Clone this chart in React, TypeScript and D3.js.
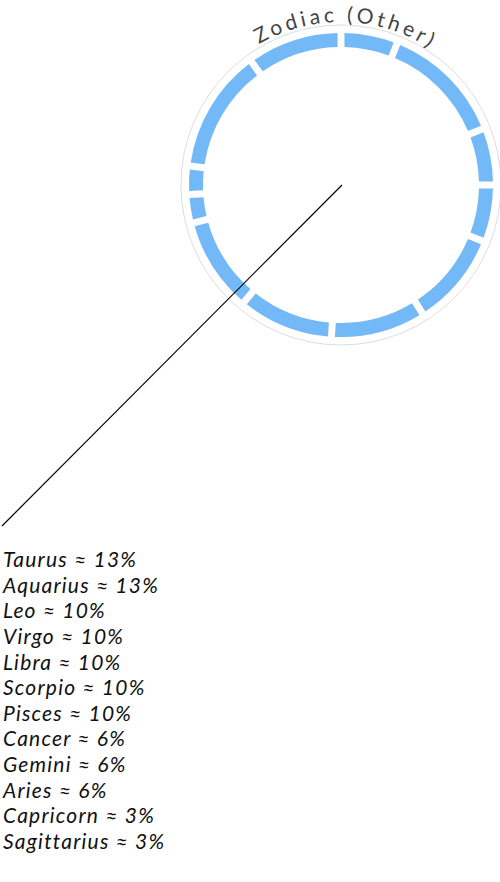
import React from "react";
import * as d3 from "d3";

const signs = ["Aries", "Taurus", "Gemini", "Cancer", "Leo", "Virgo", "Libra", "Scorpio", "Sagittarius", "Capricorn", "Aquarius", "Pisces"];
const shares = [6, 13, 6, 6, 10, 10, 10, 10, 3, 3, 13, 10];
const legendOrder = ["Taurus", "Aquarius", "Leo", "Virgo", "Libra", "Scorpio", "Pisces", "Cancer", "Gemini", "Aries", "Capricorn", "Sagittarius"];
const title = "Zodiac (Other)";

const W = 500;
const H = 882;
const cx = 341;
const cy = 185;
const rOuter = 152;
const rInner = 138;
const rFrame = 160;
const rTitle = 163;

export default function App() {
  const data = signs.map((s, i) => ({ sign: s, value: shares[i] }));
  const pie = d3.pie<{ sign: string; value: number }>().sort(null).value((d) => d.value);
  const arcs = pie(data);
  const arc = d3
    .arc<d3.PieArcDatum<{ sign: string; value: number }>>()
    .innerRadius(rInner)
    .outerRadius(rOuter)
    .padAngle(0.048)
    .padRadius(145);

  const titlePath = `M ${cx - rTitle},${cy} A ${rTitle},${rTitle} 0 0 1 ${cx + rTitle},${cy}`;
  const valueOf = (s: string) => shares[signs.indexOf(s)];
  const y = d3.scalePoint<string>().domain(legendOrder).range([567, 849]);

  return (
    <svg width={W} height={H} style={{ position: "absolute", left: 0, top: 0 }}>
      <defs>
        <path id="titleArc" d={titlePath} />
      </defs>
      <circle cx={cx} cy={cy} r={rFrame} fill="none" stroke="#d4d4d4" strokeWidth={0.8} />
      <g transform={`translate(${cx},${cy})`}>
        {arcs.map((a) => (
          <path key={a.data.sign} d={arc(a) || ""} fill="#74b9f7" />
        ))}
      </g>
      <text fontFamily="Lato" fontSize={21} fill="#444" letterSpacing={3.6}>
        <textPath href="#titleArc" startOffset="51%" textAnchor="middle">
          {title}
        </textPath>
      </text>
      <line x1={342} y1={185} x2={2} y2={526} stroke="#000" strokeWidth={1.2} />
      {legendOrder.map((s) => (
        <text
          key={s}
          x={3}
          y={y(s)}
          fontFamily="Lato"
          fontStyle="italic"
          fontSize={21}
          fill="#111"
          letterSpacing={1.2}
        >
          {`${s} ≈ ${valueOf(s)}%`}
        </text>
      ))}
    </svg>
  );
}
